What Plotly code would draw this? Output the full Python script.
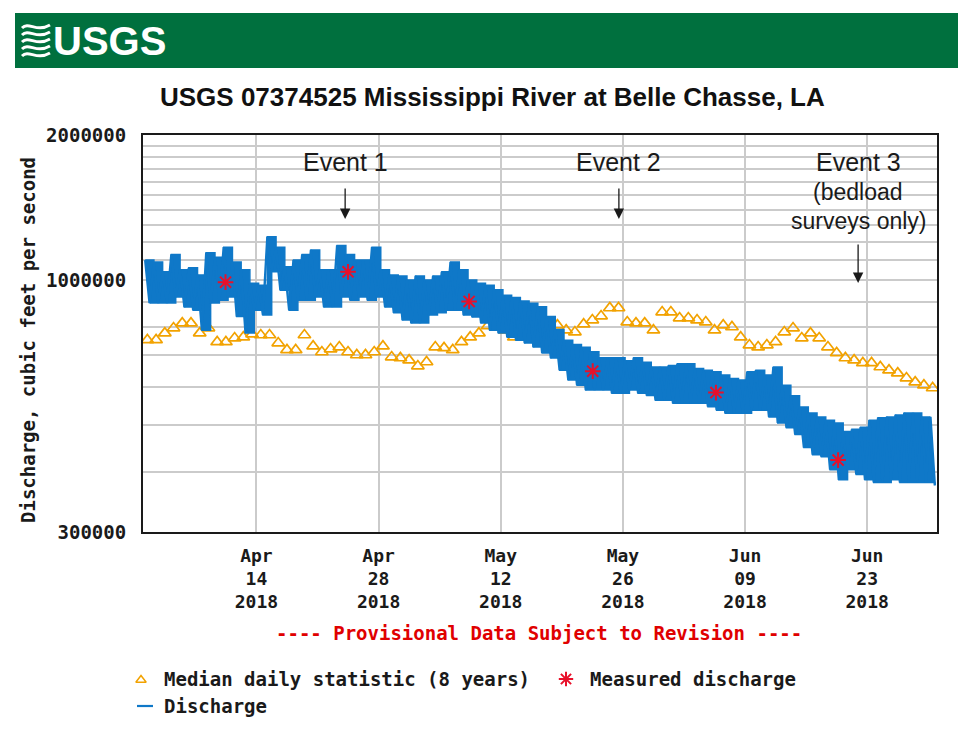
import math
import plotly.graph_objects as go
import pandas as pd

# ---------------- data ----------------
start_day = "2018-04-01"
n_days = 91  # Apr 1 .. Jun 30

# Median daily statistic (8 years), thousand cfs, one per day Apr 1 .. Jun 30
median_k = [751, 751, 776, 795, 814, 814, 776, 795, 744, 744,
            758, 761, 772, 769, 769, 740, 716, 716, 769, 729,
            709, 719, 726, 709, 699, 699, 709, 729, 692, 689,
            682, 663, 676, 726, 723, 716, 744, 761, 776, 803,
            799, 787, 761, 765, 780, 784, 791, 806, 787, 780,
            810, 826, 842, 875, 875, 818, 814, 814, 787, 858,
            858, 834, 834, 826, 818, 787, 806, 799, 761, 733,
            726, 733, 744, 780, 795, 758, 776, 758, 726, 706,
            689, 682, 673, 673, 660, 650, 641, 626, 614, 605,
            597]

# Discharge (tidal): daily high and low, thousand cfs
discharge_high_k = [1100, 1090, 1040, 1130, 1050, 1060, 1025, 1140, 1115, 1170,
                    1090, 1050, 985, 975, 1230, 1170, 1065, 1100, 1130, 1155,
                    1050, 1050, 1180, 1130, 1100, 1100, 1170, 1050, 1025, 1020,
                    1000, 1020, 1000, 1020, 1040, 1090, 1050, 1000, 985, 975,
                    955, 930, 920, 905, 895, 880, 840, 790, 750, 735,
                    725, 710, 690, 690, 690, 680, 690, 675, 660, 660,
                    665, 670, 670, 655, 650, 645, 635, 625, 620, 645,
                    650, 635, 660, 605, 575, 545, 530, 520, 512, 505,
                    485, 490, 495, 512, 518, 520, 525, 530, 530, 520,
                    520]
discharge_low_k = [896, 896, 896, 922, 879, 866, 787, 896, 908, 922,
                   840, 776, 866, 846, 1040, 953, 866, 908, 908, 922,
                   879, 879, 922, 908, 922, 908, 922, 879, 855, 826,
                   814, 814, 846, 855, 866, 866, 846, 838, 814, 787,
                   776, 761, 750, 740, 726, 706, 689, 650, 620, 605,
                   591, 591, 591, 582, 582, 591, 582, 576, 563, 563,
                   555, 555, 555, 555, 546, 537, 529, 529, 529, 537,
                   537, 520, 505, 494, 478, 449, 434, 430, 404, 385,
                   404, 395, 385, 380, 380, 385, 380, 380, 380, 380,
                   375]

# Measured discharge
measured_times = ["2018-04-10 11:00", "2018-04-24 12:00", "2018-05-08 09:00",
                  "2018-05-22 13:00", "2018-06-05 16:00", "2018-06-19 16:00"]
measured_k = [990, 1040, 903, 647, 584, 423]

# Axis ticks
x_tick_dates = ["2018-04-14", "2018-04-28", "2018-05-12",
                "2018-05-26", "2018-06-09", "2018-06-23"]
x_tick_text = ["Apr<br>14<br>2018", "Apr<br>28<br>2018", "May<br>12<br>2018",
               "May<br>26<br>2018", "Jun<br>09<br>2018", "Jun<br>23<br>2018"]
y_grid_values = list(range(300000, 1000001, 100000)) + list(range(1100000, 2000001, 100000))
y_labelled = {300000: "300000", 1000000: "1000000", 2000000: "2000000"}

# Event annotations
event_times = ["2018-04-24 04:00", "2018-05-25 13:00", "2018-06-21 23:00"]
event_labels = ["Event 1", "Event 2", "Event 3"]

# ---------------- build ----------------
W, H = 966, 736
OFF = 8  # page body margin: screen = figure + OFF


def sx(v):
    return v - OFF


def sy(v):
    return v - OFF


PL, PR, PT, PB = sx(143), sx(937), sy(135), sy(532)

days = pd.date_range(start_day, periods=n_days, freq="D")
median_cfs = [v * 1000 for v in median_k]
high_cfs = [v * 1000 for v in discharge_high_k]
low_cfs = [v * 1000 for v in discharge_low_k]

q_times, q_vals = [], []
for d, hi, lo in zip(days, high_cfs, low_cfs):
    q_times.append(d + pd.Timedelta(hours=6))
    q_vals.append(hi)
    q_times.append(d + pd.Timedelta(hours=18))
    q_vals.append(lo)
hi_times = [d + pd.Timedelta(hours=6) for d in days]
lo_times = [d + pd.Timedelta(hours=18) for d in days]

median_times = [d + pd.Timedelta(hours=12) for d in days]

MONO = "DejaVu Sans Mono, Liberation Mono, monospace"
NARROW = "Liberation Sans Narrow, Liberation Sans, Arial, sans-serif"
SANS = "Liberation Sans, Arial, sans-serif"
ORANGE = "#f2a200"
BLUE = "#0f78c8"
RED = "#e8102a"
INK = "#1a1a1a"

fig = go.Figure()

fig.add_trace(go.Scatter(
    x=median_times, y=median_cfs, mode="markers",
    marker=dict(symbol="triangle-up-open", size=11, color=ORANGE,
                line=dict(width=1.7, color=ORANGE)),
    name="Median daily statistic (8 years)", showlegend=False,
    xaxis="x", yaxis="y"))

# tidal band: daily highs and lows as a stepped envelope
fig.add_trace(go.Scatter(
    x=hi_times, y=high_cfs, mode="lines", line_shape="hv",
    line=dict(color=BLUE, width=1.5), showlegend=False, hoverinfo="skip",
    xaxis="x", yaxis="y"))
fig.add_trace(go.Scatter(
    x=lo_times, y=low_cfs, mode="lines", line_shape="hv",
    line=dict(color=BLUE, width=1.5), fill="tonexty", fillcolor=BLUE,
    showlegend=False, hoverinfo="skip", xaxis="x", yaxis="y"))
fig.add_trace(go.Scatter(
    x=q_times, y=q_vals, mode="lines",
    line=dict(color=BLUE, width=2.4),
    name="Discharge", showlegend=False, xaxis="x", yaxis="y"))

fig.add_trace(go.Scatter(
    x=pd.to_datetime(measured_times), y=[v * 1000 for v in measured_k], mode="markers",
    marker=dict(symbol="asterisk-open", size=13, color=RED,
                line=dict(width=2, color=RED)),
    name="Measured discharge", showlegend=False, xaxis="x", yaxis="y"))

# legend keys on a pixel overlay
fig.add_trace(go.Scatter(
    x=[sx(141)], y=[sy(680)], mode="markers",
    marker=dict(symbol="triangle-up-open", size=9, color=ORANGE, line=dict(width=1.5, color=ORANGE)),
    showlegend=False, hoverinfo="skip", xaxis="x2", yaxis="y2"))
fig.add_trace(go.Scatter(
    x=[sx(566)], y=[sy(679)], mode="markers",
    marker=dict(symbol="asterisk-open", size=12, color=RED, line=dict(width=2, color=RED)),
    showlegend=False, hoverinfo="skip", xaxis="x2", yaxis="y2"))
fig.add_trace(go.Scatter(
    x=[sx(137), sx(153)], y=[sy(706), sy(706)], mode="lines",
    line=dict(color=BLUE, width=2.2),
    showlegend=False, hoverinfo="skip", xaxis="x2", yaxis="y2"))

fig.update_layout(
    width=W, height=H, autosize=False,
    margin=dict(l=0, r=0, t=0, b=0, pad=0, autoexpand=False),
    paper_bgcolor="white", plot_bgcolor="rgba(0,0,0,0)",
    xaxis=dict(
        type="date", domain=[PL / W, PR / W], anchor="y",
        range=["2018-04-01", "2018-07-01"],
        tickvals=x_tick_dates, ticktext=x_tick_text,
        showgrid=True, gridcolor="#cbcbcb", gridwidth=1.6,
        showline=True, linecolor=INK, linewidth=2, mirror=True,
        ticks="", tickfont=dict(family=MONO, size=18, color=INK, weight="bold"),
        ticklabelstandoff=6, zeroline=False, automargin=False),
    yaxis=dict(
        type="log", domain=[1 - PB / H, 1 - PT / H], anchor="x",
        range=[math.log10(300000), math.log10(2000000)],
        tickvals=y_grid_values,
        ticktext=[y_labelled.get(v, "") for v in y_grid_values],
        showgrid=True, gridcolor="#cbcbcb", gridwidth=1.6,
        showline=True, linecolor=INK, linewidth=2, mirror=True,
        ticks="", tickfont=dict(family=MONO, size=19, color=INK, weight="bold"),
        ticklabelstandoff=11, zeroline=False, automargin=False),
    xaxis2=dict(domain=[0, 1], range=[0, W], anchor="y2", visible=False,
                fixedrange=True, automargin=False),
    yaxis2=dict(domain=[0, 1], range=[H, 0], anchor="x2", visible=False,
                fixedrange=True, automargin=False),
)

shapes = []
# frame lines of the page
shapes.append(dict(type="line", xref="x2", yref="y2", x0=sx(7), x1=W, y0=sy(4), y1=sy(4),
                   line=dict(color="#111", width=2)))
shapes.append(dict(type="line", xref="x2", yref="y2", x0=sx(7), x1=sx(7), y0=sy(4), y1=H,
                   line=dict(color="#111", width=2)))
# green header bar
shapes.append(dict(type="rect", xref="x2", yref="y2", x0=sx(15), x1=W, y0=sy(13), y1=sy(68),
                   fillcolor="#00703e", line=dict(width=0), layer="below"))
# logo waves
for i in range(5):
    yb = sy(26 + i * 7)
    x0, x1, x2, x3 = sx(22), sx(29), sx(36), sx(50)
    shapes.append(dict(type="path", xref="x2", yref="y2",
                       path=f"M {x0},{yb + 2} C {x1},{yb - 5} {x2},{yb + 7} {x3},{yb - 1}",
                       line=dict(color="white", width=3)))
fig.update_layout(shapes=shapes)

ann = []
ann.append(dict(text="<b>USGS</b>", x=sx(51), y=sy(41), xref="x2", yref="y2", xanchor="left",
                yanchor="middle", showarrow=False, font=dict(family=NARROW, size=40, color="white")))
ann.append(dict(text="USGS 07374525 Mississippi River at Belle Chasse, LA", x=sx(492), y=sy(97),
                xref="x2", yref="y2", xanchor="center", yanchor="middle", showarrow=False,
                font=dict(family=NARROW, size=26, color="#111", weight="bold")))
ann.append(dict(text="Discharge, cubic feet per second", x=sx(28), y=sy(340), xref="x2", yref="y2",
                textangle=-90, showarrow=False, xanchor="center", yanchor="middle",
                font=dict(family=MONO, size=19, color=INK, weight="bold")))
ann.append(dict(text="---- Provisional Data Subject to Revision ----", x=sx(539), y=sy(633),
                xref="x2", yref="y2", showarrow=False, xanchor="center", yanchor="middle",
                font=dict(family=MONO, size=19, color="#e00000", weight="bold")))
ann.append(dict(text="Median daily statistic (8 years)", x=sx(162), y=sy(679), xref="x2", yref="y2",
                showarrow=False, xanchor="left", yanchor="middle",
                font=dict(family=MONO, size=19, color=INK, weight="bold")))
ann.append(dict(text="Measured discharge", x=sx(588), y=sy(679), xref="x2", yref="y2",
                showarrow=False, xanchor="left", yanchor="middle",
                font=dict(family=MONO, size=19, color=INK, weight="bold")))
ann.append(dict(text="Discharge", x=sx(162), y=sy(706), xref="x2", yref="y2",
                showarrow=False, xanchor="left", yanchor="middle",
                font=dict(family=MONO, size=19, color=INK, weight="bold")))

# events
tips = [219, 219, 283]
for t, lab, tip in zip(event_times, event_labels, tips):
    ann.append(dict(text=lab, x=t, y=sy(162), xref="x", yref="y2", showarrow=False,
                    xanchor="center", yanchor="middle",
                    font=dict(family=SANS, size=25, color=INK)))
    tail = 187 if tip < 250 else 243
    ann.append(dict(text="", x=t, y=sy(tip), xref="x", yref="y2", showarrow=True,
                    ax=0, ay=tail - tip, arrowhead=2, arrowsize=1.6, arrowwidth=1.3,
                    arrowcolor=INK))
ann.append(dict(text="(bedload", x=event_times[2], y=sy(192), xref="x", yref="y2", showarrow=False,
                xanchor="center", yanchor="middle", font=dict(family=SANS, size=23, color=INK)))
ann.append(dict(text="surveys only)", x=event_times[2], y=sy(221), xref="x", yref="y2", showarrow=False,
                xanchor="center", yanchor="middle", font=dict(family=SANS, size=23, color=INK)))
fig.update_layout(annotations=ann)

fig.write_html("out.html")
